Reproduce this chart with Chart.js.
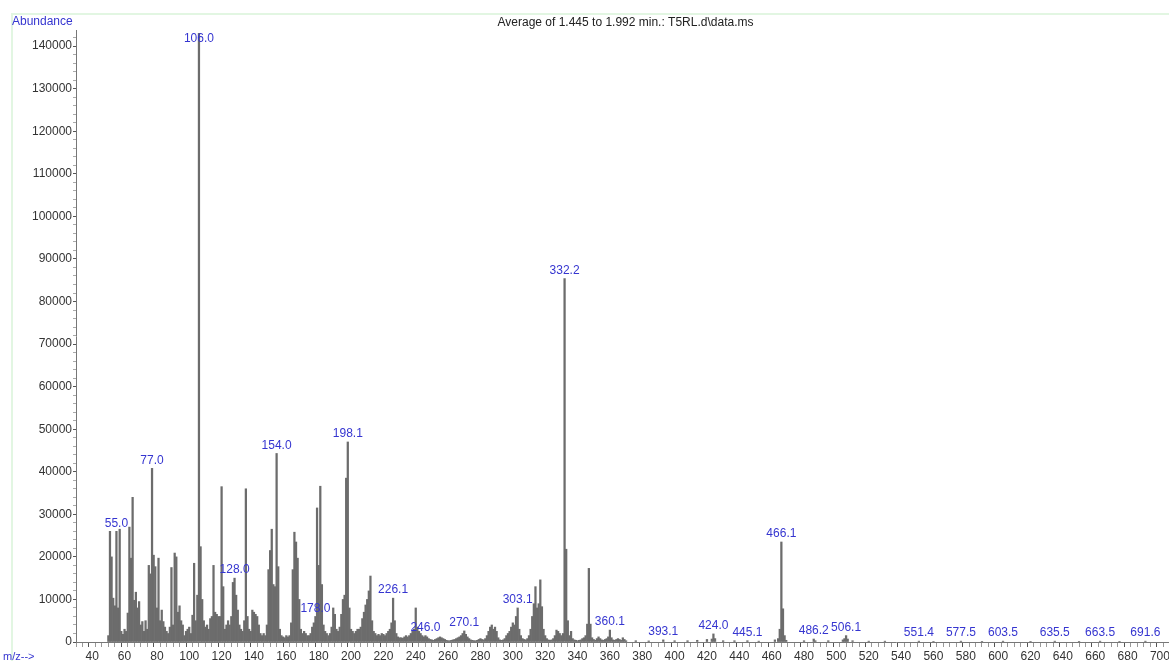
<!DOCTYPE html>
<html>
<head>
<meta charset="utf-8">
<script src="https://cdn.jsdelivr.net/npm/chart.js"></script>
<style>
  html, body { margin: 0; padding: 0; background: #fff; }
  canvas { display: block; }
</style>
</head>
<body>
<canvas id="spectrum" width="1169" height="661"></canvas>
<script>
// m/z 50..370, one value per unit mass
const firstMz = 50;
const abundance = [
  1500, 26000, 20000, 10300, 8500, 26000, 8000, 26500, 2500, 1800,   // 50
  3000, 2500, 6800, 27000, 19700, 34000, 9800, 11700, 8000, 9500,    // 60
  4000, 4800, 2500, 5000, 3000, 18000, 16000, 40800, 20400, 17700,   // 70
  8000, 19700, 5000, 7500, 4800, 3500, 2500, 2000, 3500, 17500,      // 80
  4000, 20900, 20000, 7000, 8500, 5000, 4000, 1500, 2500, 3000,      // 90
  3500, 2000, 6300, 18500, 5000, 11000, 143000, 22400, 10000, 5000,  // 100
  3500, 4000, 3000, 5500, 6000, 18000, 7000, 6500, 6000, 6000,       // 110
  36500, 13000, 3000, 4000, 5000, 4000, 6000, 14000, 15000, 11000,   // 120
  7500, 4000, 3000, 2500, 5000, 36000, 6000, 3000, 2500, 7500,       // 130
  7000, 6500, 6000, 4000, 2000, 1500, 2000, 1500, 4000, 17000,       // 140
  21500, 26500, 13500, 13000, 44300, 17700, 3000, 1500, 1200, 1000,  // 150
  1500, 1200, 1500, 4500, 17000, 25800, 23500, 19700, 10000, 3000,   // 160
  2000, 2500, 2000, 1500, 1500, 2000, 3500, 4500, 6000, 31500,       // 170
  18000, 36600, 13500, 4000, 2500, 2000, 1500, 2000, 3500, 8000,     // 180
  6500, 3000, 2500, 3500, 6500, 10000, 11000, 38500, 47000, 8000,    // 190
  3000, 2500, 2000, 2500, 3000, 3000, 3500, 5500, 7000, 8700,        // 200
  10000, 12000, 15500, 5000, 2500, 2000, 1500, 1800, 1500, 2000,     // 210
  1800, 1500, 2000, 2500, 3000, 4500, 10300, 5000, 2000, 1200,       // 220
  1000, 1000, 900, 1200, 1500, 1200, 1500, 2000, 2500, 3000,         // 230
  8000, 3500, 2500, 2000, 1500, 1200, 1500, 1200, 800, 600,          // 240
  500, 400, 600, 800, 1000, 1200, 1000, 800, 600, 400,               // 250
  300, 300, 400, 500, 600, 800, 1000, 1200, 1500, 2000,              // 260
  2600, 1800, 1200, 800, 500, 400, 300, 300, 400, 600,               // 270
  800, 600, 500, 800, 1500, 2500, 3500, 4000, 3000, 3500,            // 280
  2500, 1000, 500, 400, 500, 800, 1500, 2000, 2500, 3500,            // 290
  4500, 4000, 6000, 8000, 3000, 1500, 800, 600, 500, 800,            // 300
  1500, 3000, 6000, 9000, 13000, 8000, 9000, 14600, 8300, 3000,      // 310
  1500, 800, 500, 400, 500, 800, 1500, 2800, 2500, 2000,             // 320
  1500, 2000, 85400, 21800, 5000, 1500, 2500, 800, 500, 400,         // 330
  300, 400, 500, 800, 1000, 1500, 4200, 17300, 4200, 1000,           // 340
  600, 400, 800, 1200, 800, 500, 400, 600, 800, 1200,                // 350
  2800, 1000, 500, 400, 600, 800, 600, 400, 1000, 600, 300           // 360
];

// scattered ions above m/z 370
const sparseMz = [376, 384, 393, 400, 408, 414, 420, 423, 424, 425, 430, 437, 445, 452,
  462, 464, 465, 466, 467, 468, 469, 480, 486, 487, 495, 504, 505, 506, 507, 510, 520,
  530, 551, 560, 577, 590, 603, 620, 635, 650, 663, 675, 691];
const sparseAbundance = [300, 250, 500, 300, 300, 400, 600, 700, 1900, 800, 300, 300, 300, 200,
  500, 800, 3000, 23500, 7800, 1500, 400, 300, 700, 300, 300, 500, 800, 1500, 700, 300, 200,
  200, 200, 150, 200, 150, 200, 150, 200, 150, 200, 150, 200];

const peakLabels = ["55.0", "77.0", "106.0", "128.0", "154.0", "178.0", "198.1", "226.1",
  "246.0", "270.1", "303.1", "332.2", "360.1", "393.1", "424.0", "445.1", "466.1", "486.2",
  "506.1", "551.4", "577.5", "603.5", "635.5", "663.5", "691.6"];

const xTickLabels = [40, 60, 80, 100, 120, 140, 160, 180, 200, 220, 240, 260, 280, 300, 320,
  340, 360, 380, 400, 420, 440, 460, 480, 500, 520, 540, 560, 580, 600, 620, 640, 660, 680, 700];
const yTickLabels = [0, 10000, 20000, 30000, 40000, 50000, 60000, 70000, 80000, 90000,
  100000, 110000, 120000, 130000, 140000];

const points = abundance.map((v, i) => ({ x: firstMz + i, y: v }))
  .concat(sparseMz.map((m, i) => ({ x: m, y: sparseAbundance[i] })));

const blue = "#3535d0";
const fontFamily = "'Liberation Sans', Arial, sans-serif";

const spectrumText = {
  id: "spectrumText",
  beforeDraw(chart) {
    const c = chart.ctx;
    c.save();
    c.strokeStyle = "#e2f6e2";
    c.lineWidth = 2;
    c.beginPath();
    c.moveTo(12, 661);
    c.lineTo(12, 14);
    c.lineTo(1169, 14);
    c.stroke();
    c.restore();
  },
  afterDatasetsDraw(chart) {
    const c = chart.ctx;
    const xs = chart.scales.x, ys = chart.scales.y, area = chart.chartArea;
    c.save();
    c.font = "12px " + fontFamily;
    c.fillStyle = blue;
    c.textAlign = "center";
    c.textBaseline = "bottom";
    peakLabels.forEach(lbl => {
      const mz = parseFloat(lbl);
      let best = points[0];
      points.forEach(p => {
        if (Math.abs(p.x - mz) < Math.abs(best.x - mz)) best = p;
      });
      const px = xs.getPixelForValue(best.x);
      const py = Math.max(ys.getPixelForValue(best.y) - 2, area.top + 15);
      c.fillText(lbl, px, py);
    });

    c.font = "12px " + fontFamily;
    c.textAlign = "left";
    c.textBaseline = "middle";
    c.fillText("Abundance", 12, 22);
    c.font = "11px " + fontFamily;
    c.fillText("m/z-->", 3, 657);

    c.fillStyle = "#222";
    c.font = "12px " + fontFamily;
    c.textAlign = "center";
    c.fillText("Average of 1.445 to 1.992 min.: T5RL.d\\data.ms", (area.left + area.right) / 2 + 3, 23);
    c.restore();
  }
};

new Chart(document.getElementById("spectrum"), {
  type: "bar",
  data: {
    datasets: [
      {
        data: points,
        backgroundColor: "#6c6c6c",
        barThickness: 1.6,
        grouped: false,
      },
    ],
  },
  options: {
    responsive: false,
    animation: false,
    devicePixelRatio: 1,
    layout: { padding: { top: 30, left: 0, right: 0, bottom: 0 } },
    plugins: {
      legend: { display: false },
      tooltip: { enabled: false },
    },
    scales: {
      x: {
        type: "linear",
        offset: false,
        min: 30,
        max: 705.6,
        afterBuildTicks(axis) {
          const t = [];
          for (let v = 32; v <= 704; v += 4) t.push({ value: v });
          axis.ticks = t;
        },
        afterFit(axis) { axis.height = 19; },
        ticks: {
          autoSkip: false,
          maxRotation: 0,
          padding: 2,
          color: "#333",
          font: { family: fontFamily, size: 12 },
          callback: v => (xTickLabels.includes(v) ? String(v) : ""),
        },
        grid: {
          drawOnChartArea: false,
          tickLength: 5,
          tickColor: ctx => (ctx.tick && xTickLabels.includes(ctx.tick.value) ? "#555" : "#999"),
        },
        border: { display: true, color: "#777", width: 1 },
      },
      y: {
        min: 0,
        max: 143800,
        afterBuildTicks(axis) {
          const t = [];
          for (let v = 0; v <= 142000; v += 2000) t.push({ value: v });
          axis.ticks = t;
        },
        afterFit(axis) { axis.width = 76; },
        ticks: {
          autoSkip: false,
          padding: 1,
          color: "#333",
          font: { family: fontFamily, size: 12 },
          callback: v => (yTickLabels.includes(v) ? String(v) : ""),
        },
        grid: {
          drawOnChartArea: false,
          tickLength: 3,
          tickColor: ctx => (ctx.tick && yTickLabels.includes(ctx.tick.value) ? "#555" : "#aaa"),
        },
        border: { display: true, color: "#777", width: 1 },
      },
    },
  },
  plugins: [spectrumText],
});
</script>
</body>
</html>
